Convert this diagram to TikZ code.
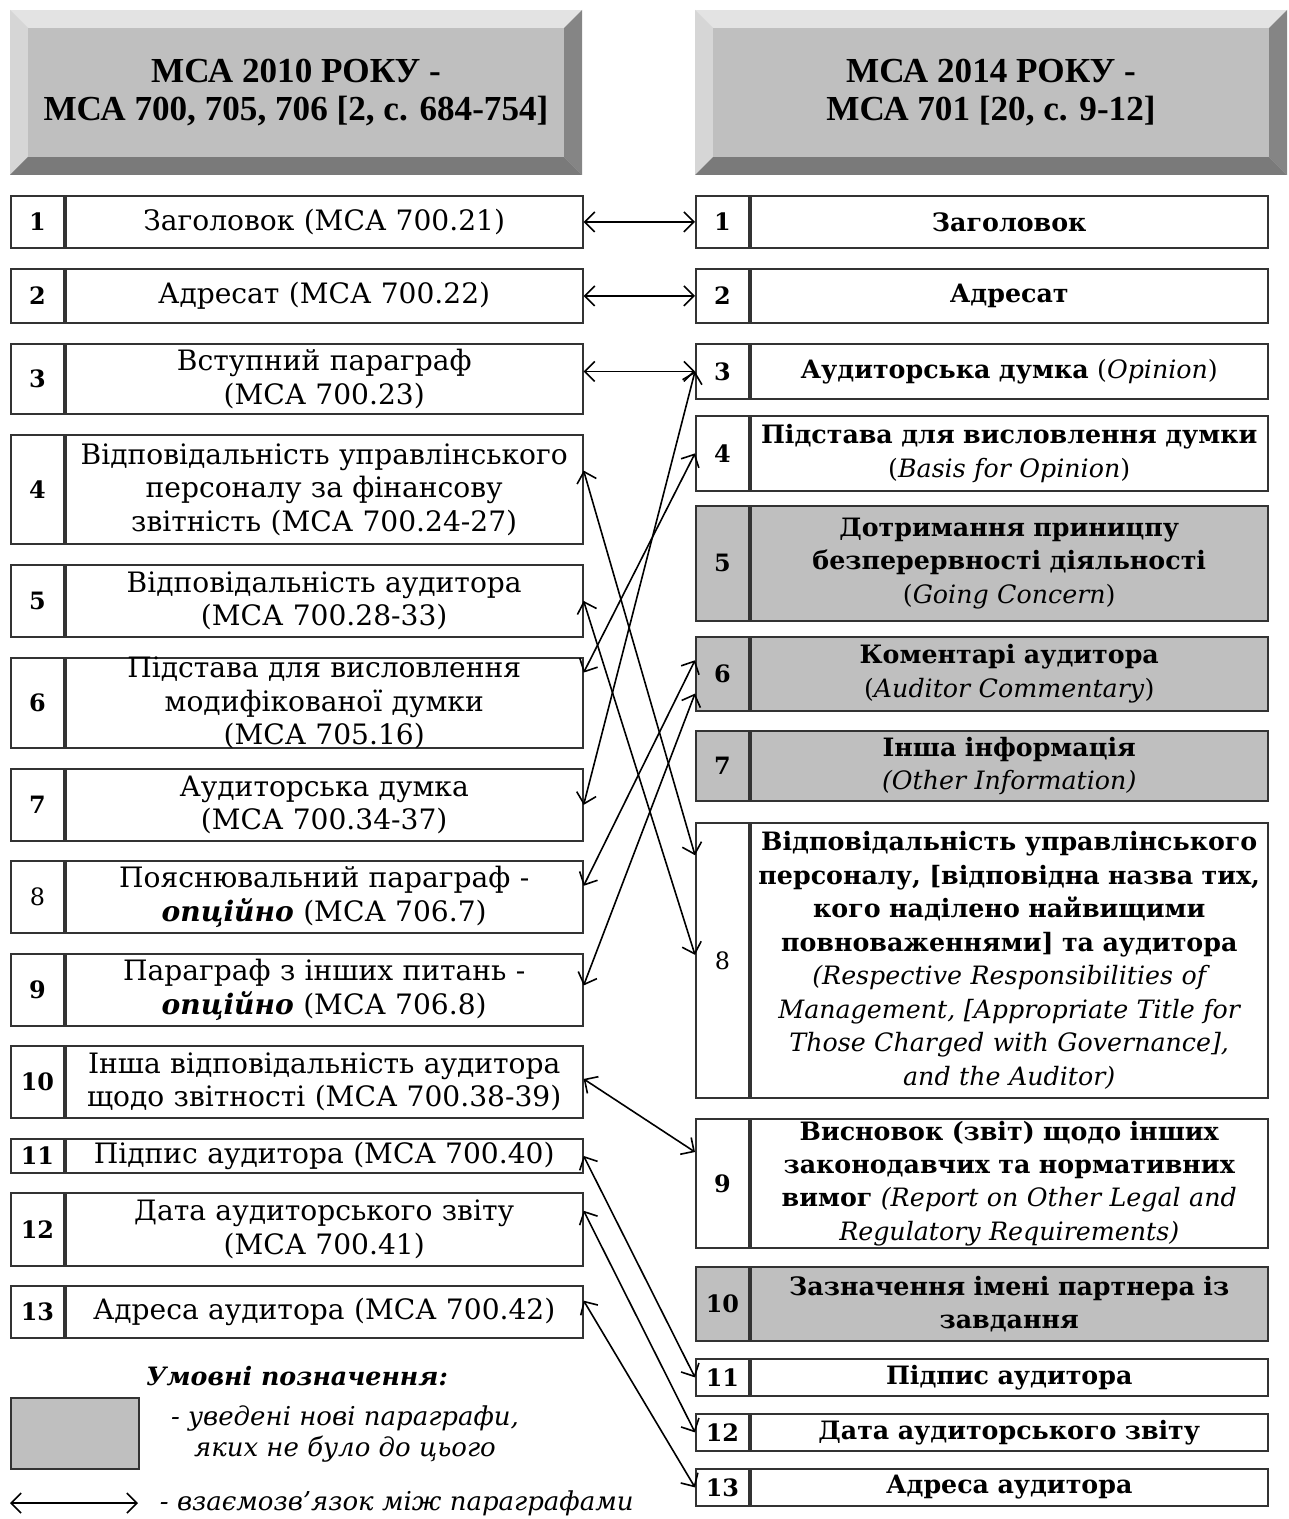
\documentclass[tikz,border=0pt]{standalone}
\usepackage{fontspec}
\setmainfont{DejaVu Serif}
\newfontfamily\hdrfont{Liberation Serif}
\usepackage{tikz}
\usetikzlibrary{calc}
\usetikzlibrary{arrows.meta}

\begin{document}
\begin{tikzpicture}[
  x=0.25mm, y=-0.25mm,
  rowh/.style={minimum height=#1*0.25mm},
  cell/.style={draw=black!80, line width=0.45mm, anchor=north west, inner sep=0pt,
               font=\fontsize{17}{23.7}\selectfont},
  numcell/.style={cell, minimum width=13.25mm, font=\fontsize{17}{23.7}\selectfont\bfseries},
  oldtxt/.style={cell, text width=126.25mm, inner xsep=1.5mm, align=center,
                 font=\fontsize{20}{23.8}\selectfont},
  newtxt/.style={oldtxt, font=\fontsize{18}{23.8}\selectfont\bfseries},
  newpar/.style={fill=black!25},
  hdr/.style={font=\hdrfont\fontsize{25}{27}\selectfont\bfseries, align=center},
  legtext/.style={font=\fontsize{18.5}{22}\selectfont\itshape, align=center},
  link/.style={draw, line width=0.4mm,
    {Straight Barb[length=2.5mm,width=5mm]}-{Straight Barb[length=2.5mm,width=5mm]}}
]
\useasboundingbox (0,0) rectangle (1288,1519);

% headers
\fill[black!11] (10,10) rectangle (582,175);
\fill[black!16] (10,10) -- (28,28) -- (28,157) -- (10,175) -- cycle;
\fill[black!48] (582,10) -- (582,175) -- (564,157) -- (564,28) -- cycle;
\fill[black!52] (10,175) -- (582,175) -- (564,157) -- (28,157) -- cycle;
\fill[black!25] (28,28) rectangle (564,157);
\node[hdr] (hdrold) at (296,93) {МСА 2010 РОКУ -\\МСА 700, 705, 706 [2, с. 684-754]};

\fill[black!11] (695,10) rectangle (1287,175);
\fill[black!16] (695,10) -- (713,28) -- (713,157) -- (695,175) -- cycle;
\fill[black!48] (1287,10) -- (1287,175) -- (1269,157) -- (1269,28) -- cycle;
\fill[black!52] (695,175) -- (1287,175) -- (1269,157) -- (713,157) -- cycle;
\fill[black!25] (713,28) rectangle (1269,157);
\node[hdr] (hdrnew) at (991,93) {МСА 2014 РОКУ -\\МСА 701 [20, с. 9-12]};

% old standard (2010)
\node[numcell, rowh=52] (l1n) at (10,195) {1};
\node[oldtxt, rowh=52] (l1) at (l1n.north east) {Заголовок (МСА 700.21)};
\node[numcell, rowh=54] (l2n) at (10,268) {2};
\node[oldtxt, rowh=54] (l2) at (l2n.north east) {Адресат (МСА 700.22)};
\node[numcell, rowh=70] (l3n) at (10,343) {3};
\node[oldtxt, rowh=70] (l3) at (l3n.north east) {Вступний параграф\\(МСА 700.23)};
\node[numcell, rowh=109] (l4n) at (10,434) {4};
\node[oldtxt, rowh=109] (l4) at (l4n.north east) {Відповідальність управлінського\\персоналу за фінансову\\звітність (МСА 700.24-27)};
\node[numcell, rowh=72] (l5n) at (10,564) {5};
\node[oldtxt, rowh=72] (l5) at (l5n.north east) {Відповідальність аудитора\\(МСА 700.28-33)};
\node[numcell, rowh=90] (l6n) at (10,657) {6};
\node[oldtxt, rowh=90, inner ysep=-1mm] (l6) at (l6n.north east) {Підстава для висловлення\\модифікованої думки\\(МСА 705.16)};
\node[numcell, rowh=72] (l7n) at (10,768) {7};
\node[oldtxt, rowh=72] (l7) at (l7n.north east) {Аудиторська думка\\(МСА 700.34-37)};
\node[numcell, rowh=72, font=\fontsize{17}{23.7}\selectfont] (l8n) at (10,860) {8};
\node[oldtxt, rowh=72] (l8) at (l8n.north east) {Пояснювальний параграф -\\\textbf{\textit{опційно}} (МСА 706.7)};
\node[numcell, rowh=72] (l9n) at (10,953) {9};
\node[oldtxt, rowh=72] (l9) at (l9n.north east) {Параграф з інших питань -\\\textbf{\textit{опційно}} (МСА 706.8)};
\node[numcell, rowh=72] (l10n) at (10,1045) {10};
\node[oldtxt, rowh=72] (l10) at (l10n.north east) {Інша відповідальність аудитора\\щодо звітності (МСА 700.38-39)};
\node[numcell, rowh=34] (l11n) at (10,1138) {11};
\node[oldtxt, rowh=34] (l11) at (l11n.north east) {Підпис аудитора (МСА 700.40)};
\node[numcell, rowh=73] (l12n) at (10,1192) {12};
\node[oldtxt, rowh=73] (l12) at (l12n.north east) {Дата аудиторського звіту\\(МСА 700.41)};
\node[numcell, rowh=52] (l13n) at (10,1285) {13};
\node[oldtxt, rowh=52] (l13) at (l13n.north east) {Адреса аудитора (МСА 700.42)};

% new standard (2014)
\node[numcell, rowh=52] (r1n) at (695,195) {1};
\node[newtxt, rowh=52] (r1) at (r1n.north east) {Заголовок};
\node[numcell, rowh=54] (r2n) at (695,268) {2};
\node[newtxt, rowh=54] (r2) at (r2n.north east) {Адресат};
\node[numcell, rowh=55] (r3n) at (695,343) {3};
\node[newtxt, rowh=55] (r3) at (r3n.north east) {Аудиторська думка \mdseries(\textit{Opinion})};
\node[numcell, rowh=75] (r4n) at (695,415) {4};
\node[newtxt, rowh=75] (r4) at (r4n.north east) {Підстава для висловлення думки\\\mdseries(\textit{Basis for Opinion})};
\node[numcell, newpar, rowh=115] (r5n) at (695,505) {5};
\node[newtxt, newpar, rowh=115] (r5) at (r5n.north east) {Дотримання приницпу\\безперервності діяльності\\\mdseries(\textit{Going Concern})};
\node[numcell, newpar, rowh=74] (r6n) at (695,636) {6};
\node[newtxt, newpar, rowh=74] (r6) at (r6n.north east) {Коментарі аудитора\\\mdseries(\textit{Auditor Commentary})};
\node[numcell, newpar, rowh=70] (r7n) at (695,730) {7};
\node[newtxt, newpar, rowh=70] (r7) at (r7n.north east) {Інша інформація\\\mdseries\itshape(Other Information)};
\node[numcell, rowh=275, font=\fontsize{17}{23.7}\selectfont] (r8n) at (695,822) {8};
\node[newtxt, rowh=275] (r8) at (r8n.north east) {Відповідальність управлінського\\персоналу, [відповідна назва тих,\\кого наділено найвищими\\повноваженнями] та аудитора\\\mdseries\itshape(Respective Responsibilities of\\Management, [Appropriate Title for\\Those Charged with Governance],\\and the Auditor)};
\node[numcell, rowh=129] (r9n) at (695,1118) {9};
\node[newtxt, rowh=129] (r9) at (r9n.north east) {Висновок (звіт) щодо інших\\законодавчих та нормативних\\вимог \mdseries\itshape(Report on Other Legal and\\Regulatory Requirements)};
\node[numcell, newpar, rowh=74] (r10n) at (695,1266) {10};
\node[newtxt, newpar, rowh=74] (r10) at (r10n.north east) {Зазначення імені партнера із\\завдання};
\node[numcell, rowh=37] (r11n) at (695,1358) {11};
\node[newtxt, rowh=37] (r11) at (r11n.north east) {Підпис аудитора};
\node[numcell, rowh=37] (r12n) at (695,1413) {12};
\node[newtxt, rowh=37] (r12) at (r12n.north east) {Дата аудиторського звіту};
\node[numcell, rowh=37] (r13n) at (695,1468) {13};
\node[newtxt, rowh=37] (r13) at (r13n.north east) {Адреса аудитора};

% links between paragraphs
\draw[link] (l1.east) -- (r1n.west);
\draw[link] (l2.east) -- (r2n.west);
\draw[link] (l3.east |- r3n.west) -- (r3n.west);
\draw[link] (l7.east) -- (r3n.west);
\draw[link] ($(l6.north east)!0.17!(l6.south east)$) -- (r4n.west);
\draw[link] ($(l4.north east)!0.33!(l4.south east)$) -- ($(r8n.north west)!0.12!(r8n.south west)$);
\draw[link] (l5.east) -- ($(r8n.north west)!0.48!(r8n.south west)$);
\draw[link] ($(l8.north east)!0.35!(l8.south east)$) -- ($(r6n.north west)!0.32!(r6n.south west)$);
\draw[link] ($(l9.north east)!0.44!(l9.south east)$) -- ($(r6n.north west)!0.76!(r6n.south west)$);
\draw[link] ($(l10.north east)!0.46!(l10.south east)$) -- ($(r9n.north west)!0.26!(r9n.south west)$);
\draw[link] (l11.east) -- (r11n.west);
\draw[link] ($(l12.north east)!0.25!(l12.south east)$) -- (r12n.west);
\draw[link] ($(l13.north east)!0.29!(l13.south east)$) -- (r13n.west);

% legend
\node[font=\fontsize{18}{22}\selectfont\bfseries\itshape] (legtitle) at (297,1376) {Умовні позначення:};
\node[cell, newpar, minimum width=32mm, minimum height=17.75mm] (legbox) at (10,1397) {};
\node[legtext] (legnew) at (345,1434) {- уведені нові параграфи,\\яких не було до цього};
\coordinate (lega) at (10,1503);
\coordinate (legb) at (138,1503);
\draw[link] (lega) -- (legb);
\node[legtext, anchor=west] (leglink) at (155,1503) {- взаємозв'язок між параграфами};
\end{tikzpicture}
\end{document}
